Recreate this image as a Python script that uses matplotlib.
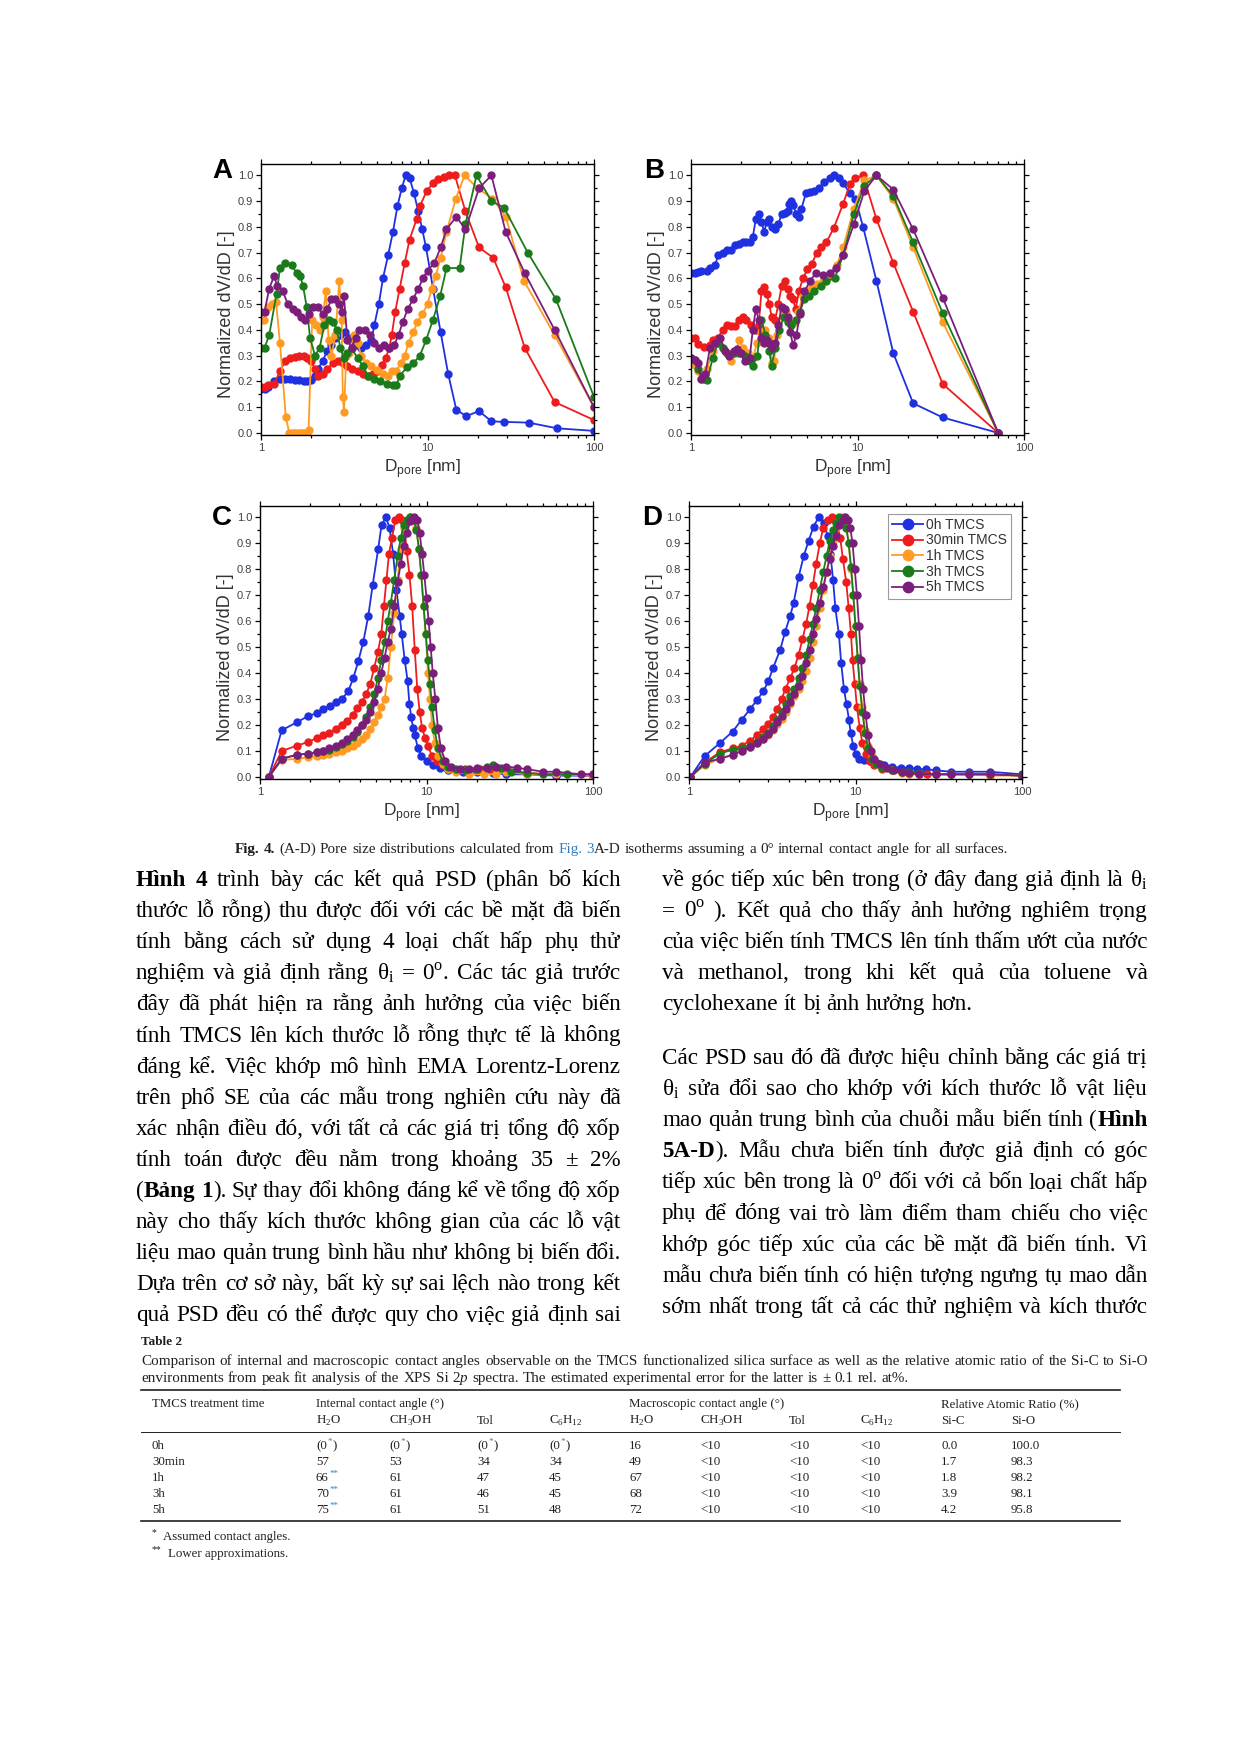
import re
import matplotlib
matplotlib.use('Agg')
import matplotlib.pyplot as plt
from matplotlib.lines import Line2D
from matplotlib.ticker import (MultipleLocator, LogLocator, NullFormatter,
                               FixedLocator, FixedFormatter, FormatStrFormatter)

# ---- panel A ----
A_0h_x = [1.0, 1.05, 1.1, 1.2, 1.3, 1.4, 1.5, 1.6, 1.7, 1.8, 1.9, 2.0, 2.1, 2.2, 2.35, 2.5, 2.65, 2.8, 3.0, 3.2,
          3.4, 3.6, 3.8, 4.0, 4.3, 4.6, 4.8, 5.1, 5.4, 5.8, 6.2, 6.6, 7.0, 7.4, 7.8, 8.3, 8.8, 9.3, 9.8, 10.8,
          12.0, 13.3, 14.9, 17.1, 20.4, 24.2, 28.7, 40.5, 60, 100]
A_0h_y = [0.17, 0.17, 0.18, 0.20, 0.21, 0.21, 0.21, 0.205, 0.205, 0.20, 0.20, 0.205, 0.22, 0.25, 0.28, 0.32, 0.34, 0.37, 0.38, 0.39,
          0.37, 0.35, 0.34, 0.33, 0.34, 0.36, 0.42, 0.50, 0.60, 0.69, 0.78, 0.88, 0.95, 1.0, 0.99, 0.93, 0.86, 0.79, 0.72, 0.56,
          0.39, 0.23, 0.09, 0.065, 0.085, 0.045, 0.043, 0.04, 0.018, 0.008]
A_30m_x = [1.0, 1.05, 1.1, 1.2, 1.3, 1.4, 1.5, 1.6, 1.7, 1.8, 1.9, 2.0, 2.1, 2.2, 2.35, 2.5, 2.7, 2.9, 3.1, 3.3,
           3.5, 3.8, 4.1, 4.4, 4.7, 5.0, 5.3, 5.6, 5.9, 6.1, 6.4, 6.8, 7.3, 7.8, 8.6, 9.0, 9.9, 10.8, 11.6, 12.5,
           13.5, 14.6, 16.9, 20.4, 24.8, 29.5, 38.4, 58, 100]
A_30m_y = [0.18, 0.18, 0.185, 0.19, 0.24, 0.28, 0.29, 0.295, 0.30, 0.30, 0.29, 0.28, 0.25, 0.22, 0.23, 0.25, 0.27, 0.28, 0.27, 0.26,
           0.25, 0.24, 0.23, 0.22, 0.23, 0.24, 0.265, 0.29, 0.33, 0.38, 0.47, 0.56, 0.66, 0.75, 0.83, 0.88, 0.94, 0.97, 0.985, 0.995,
           1.0, 1.0, 0.86, 0.72, 0.68, 0.565, 0.33, 0.12, 0.05]
A_1h_x = [1.0, 1.04, 1.1, 1.17, 1.23, 1.3, 1.41, 1.48, 1.53, 1.58, 1.63, 1.68, 1.73, 1.78, 1.83, 1.88, 1.93, 2.03, 2.15, 2.25,
          2.35, 2.45, 2.55, 2.65, 2.8, 2.95, 3.05, 3.1, 3.15, 3.25, 3.4, 3.6, 3.8, 4.0, 4.3, 4.6, 5.0, 5.4, 5.8, 6.1,
          6.5, 6.9, 7.3, 7.7, 8.2, 8.7, 9.3, 10.0, 10.6, 11.2, 12.0, 13.0, 14.8, 16.7, 20.0, 24.5, 29.5, 38.0, 58, 100]
A_1h_y = [0.44, 0.44, 0.49, 0.50, 0.51, 0.35, 0.06, 0.0, 0.0, 0.0, 0.0, 0.0, 0.0, 0.0, 0.0, 0.0, 0.01, 0.44, 0.42, 0.40,
          0.45, 0.55, 0.36, 0.30, 0.38, 0.59, 0.44, 0.14, 0.08, 0.30, 0.31, 0.38, 0.35, 0.30, 0.27, 0.26, 0.245, 0.23, 0.22, 0.24,
          0.24, 0.27, 0.30, 0.35, 0.39, 0.43, 0.46, 0.50, 0.56, 0.61, 0.68, 0.78, 0.91, 1.0, 0.95, 0.91, 0.84, 0.59, 0.38, 0.10]
A_3h_x = [1.0, 1.05, 1.12, 1.24, 1.3, 1.39, 1.53, 1.64, 1.72, 1.79, 1.88, 1.97, 2.11, 2.25, 2.4, 2.55, 2.7, 2.85, 3.0, 3.15,
          3.3, 3.5, 3.8, 4.1, 4.4, 4.8, 5.2, 5.7, 6.2, 6.5, 6.8, 7.5, 8.2, 9.0, 9.8, 10.8, 11.9, 13.0, 15.6, 16.9,
          19.7, 24.2, 28.8, 40, 59, 100]
A_3h_y = [0.33, 0.33, 0.38, 0.54, 0.64, 0.66, 0.65, 0.62, 0.61, 0.57, 0.49, 0.37, 0.30, 0.33, 0.42, 0.44, 0.43, 0.40, 0.33, 0.29,
          0.31, 0.33, 0.29, 0.26, 0.22, 0.21, 0.20, 0.19, 0.185, 0.185, 0.22, 0.255, 0.27, 0.30, 0.36, 0.44, 0.53, 0.64, 0.64, 0.81,
          1.0, 0.90, 0.875, 0.70, 0.52, 0.14]
A_5h_x = [1.0, 1.05, 1.12, 1.2, 1.25, 1.35, 1.45, 1.55, 1.65, 1.75, 1.85, 1.95, 2.05, 2.2, 2.35, 2.5, 2.65, 2.8, 2.95, 3.05,
          3.15, 3.3, 3.5, 3.7, 3.9, 4.2, 4.5, 4.8, 5.1, 5.5, 5.9, 6.3, 6.7, 7.1, 7.6, 8.2, 8.8, 9.4, 10.0, 11.0,
          12.0, 13.0, 14.9, 16.9, 20.4, 24.2, 29.5, 38.4, 58, 100]
A_5h_y = [0.47, 0.47, 0.56, 0.61, 0.57, 0.55, 0.50, 0.48, 0.47, 0.45, 0.44, 0.46, 0.49, 0.49, 0.46, 0.48, 0.52, 0.52, 0.50, 0.47,
          0.53, 0.36, 0.33, 0.37, 0.40, 0.40, 0.38, 0.35, 0.33, 0.34, 0.33, 0.34, 0.38, 0.43, 0.48, 0.52, 0.56, 0.60, 0.63, 0.66,
          0.72, 0.79, 0.84, 0.79, 0.95, 1.0, 0.78, 0.62, 0.40, 0.10]

# ---- panel B ----
B_0h_x = [1.0, 1.05, 1.1, 1.15, 1.25, 1.3, 1.4, 1.45, 1.55, 1.65, 1.75, 1.85, 1.95, 2.05, 2.15, 2.25, 2.35, 2.45, 2.55, 2.65,
          2.75, 2.85, 2.95, 3.05, 3.2, 3.35, 3.5, 3.65, 3.8, 3.9, 4.0, 4.1, 4.3, 4.45, 4.6, 4.9, 5.2, 5.5, 5.9, 6.3,
          6.8, 7.2, 7.7, 8.2, 9.0, 9.7, 10.8, 13.0, 16.4, 21.6, 32.5, 70]
B_0h_y = [0.62, 0.62, 0.625, 0.63, 0.63, 0.64, 0.65, 0.69, 0.70, 0.71, 0.71, 0.73, 0.735, 0.74, 0.74, 0.74, 0.76, 0.83, 0.85, 0.82,
          0.78, 0.82, 0.83, 0.80, 0.79, 0.81, 0.85, 0.855, 0.86, 0.89, 0.90, 0.885, 0.85, 0.84, 0.87, 0.93, 0.935, 0.94, 0.95, 0.975,
          0.99, 1.0, 0.99, 0.97, 0.93, 0.91, 0.80, 0.59, 0.31, 0.115, 0.06, 0.0]
B_30m_x = [1.0, 1.05, 1.1, 1.2, 1.3, 1.35, 1.45, 1.55, 1.65, 1.75, 1.85, 1.95, 2.05, 2.15, 2.3, 2.45, 2.55, 2.65, 2.75, 2.85,
           2.95, 3.05, 3.2, 3.35, 3.5, 3.65, 3.8, 3.95, 4.1, 4.25, 4.45, 4.7, 5.0, 5.3, 5.7, 6.0, 6.5, 7.2, 8.2, 9.0,
           9.6, 10.8, 13.0, 16.4, 21.6, 32.5, 70]
B_30m_y = [0.37, 0.37, 0.345, 0.335, 0.34, 0.36, 0.37, 0.40, 0.42, 0.415, 0.415, 0.44, 0.45, 0.44, 0.42, 0.40, 0.42, 0.55, 0.565, 0.54,
           0.50, 0.45, 0.44, 0.50, 0.57, 0.59, 0.56, 0.53, 0.52, 0.48, 0.55, 0.60, 0.635, 0.655, 0.70, 0.72, 0.74, 0.795, 0.89, 0.965,
           0.99, 1.0, 0.83, 0.66, 0.47, 0.19, 0.0]
B_1h_x = [1.0, 1.05, 1.1, 1.15, 1.25, 1.35, 1.45, 1.55, 1.65, 1.75, 1.85, 1.95, 2.05, 2.2, 2.35, 2.5, 2.65, 2.8, 2.95, 3.05,
          3.15, 3.3, 3.5, 3.7, 3.85, 4.0, 4.2, 4.4, 4.7, 5.0, 5.3, 5.7, 6.2, 6.8, 7.5, 8.2, 9.5, 11.0, 13.0, 16.4,
          21.6, 32.5, 70]
B_1h_y = [0.27, 0.265, 0.24, 0.21, 0.25, 0.32, 0.35, 0.33, 0.31, 0.28, 0.31, 0.36, 0.33, 0.31, 0.29, 0.35, 0.39, 0.40, 0.37, 0.27,
          0.28, 0.38, 0.48, 0.47, 0.44, 0.42, 0.43, 0.47, 0.53, 0.55, 0.57, 0.58, 0.59, 0.61, 0.65, 0.72, 0.87, 0.98, 1.0, 0.91,
          0.72, 0.43, 0.0]
B_3h_x = [1.0, 1.05, 1.1, 1.2, 1.25, 1.35, 1.45, 1.55, 1.65, 1.8, 1.95, 2.1, 2.25, 2.35, 2.5, 2.65, 2.8, 2.95, 3.05, 3.2,
          3.4, 3.6, 3.8, 4.0, 4.3, 4.5, 4.8, 5.1, 5.5, 6.0, 6.5, 7.3, 8.2, 9.5, 11.0, 13.0, 16.4, 21.6, 32.5, 70]
B_3h_y = [0.29, 0.285, 0.25, 0.21, 0.205, 0.29, 0.35, 0.33, 0.31, 0.31, 0.31, 0.30, 0.28, 0.26, 0.30, 0.44, 0.38, 0.32, 0.26, 0.33,
          0.40, 0.45, 0.43, 0.42, 0.44, 0.47, 0.52, 0.53, 0.55, 0.57, 0.59, 0.60, 0.69, 0.85, 0.96, 1.0, 0.92, 0.74, 0.465, 0.0]
B_5h_x = [1.0, 1.05, 1.1, 1.15, 1.22, 1.3, 1.4, 1.5, 1.6, 1.7, 1.8, 1.9, 2.0, 2.1, 2.25, 2.35, 2.45, 2.55, 2.65, 2.75,
          2.85, 2.95, 3.05, 3.2, 3.35, 3.5, 3.65, 3.8, 3.95, 4.1, 4.3, 4.5, 4.8, 5.2, 5.6, 6.2, 6.8, 7.4, 8.2, 9.5,
          11.0, 13.0, 16.4, 21.6, 32.5, 70]
B_5h_y = [0.29, 0.285, 0.27, 0.21, 0.23, 0.33, 0.35, 0.37, 0.32, 0.30, 0.32, 0.325, 0.31, 0.28, 0.29, 0.40, 0.48, 0.44, 0.37, 0.35,
          0.36, 0.35, 0.33, 0.35, 0.42, 0.49, 0.48, 0.45, 0.39, 0.34, 0.38, 0.46, 0.55, 0.59, 0.62, 0.615, 0.62, 0.64, 0.69, 0.81,
          0.94, 1.0, 0.945, 0.79, 0.525, 0.0]

# ---- panel C ----
C_0h_x = [1.13, 1.35, 1.66, 1.95, 2.19, 2.4, 2.63, 2.88, 3.1, 3.39, 3.63, 3.89, 4.17, 4.47, 4.75, 5.13, 5.37, 5.7, 6.0, 6.3,
          6.6, 6.9, 7.1, 7.4, 7.7, 7.9, 8.1, 8.3, 8.5, 8.9, 9.3, 10.0, 10.9, 12.0, 13.5, 16.6, 20, 25, 30, 40, 60, 100]
C_0h_y = [0.0, 0.18, 0.21, 0.235, 0.245, 0.26, 0.275, 0.29, 0.30, 0.33, 0.38, 0.445, 0.52, 0.62, 0.74, 0.88, 0.97, 1.0, 0.96, 0.86,
          0.72, 0.62, 0.55, 0.45, 0.37, 0.28, 0.23, 0.19, 0.16, 0.11, 0.08, 0.06, 0.045, 0.035, 0.025, 0.02, 0.02, 0.015, 0.01, 0.01,
          0.005, 0.005]
C_30m_x = [1.13, 1.35, 1.66, 1.95, 2.2, 2.4, 2.6, 2.85, 3.1, 3.35, 3.6, 3.85, 4.1, 4.35, 4.6, 4.85, 5.1, 5.35, 5.55, 5.75,
           5.95, 6.2, 6.5, 6.8, 7.1, 7.4, 7.6, 7.9, 8.2, 8.5, 8.8, 9.1, 9.4, 9.8, 10.2, 10.8, 11.5, 12.5, 14, 17,
           21, 25, 30, 40, 60, 100]
C_30m_y = [0.0, 0.10, 0.12, 0.135, 0.15, 0.16, 0.17, 0.185, 0.20, 0.215, 0.24, 0.265, 0.29, 0.32, 0.36, 0.42, 0.48, 0.55, 0.66, 0.76,
           0.86, 0.92, 0.99, 1.0, 0.99, 0.95, 0.87, 0.78, 0.66, 0.49, 0.34, 0.25, 0.19, 0.15, 0.12, 0.08, 0.06, 0.045, 0.035, 0.03,
           0.03, 0.025, 0.03, 0.015, 0.01, 0.005]
C_1h_x = [1.13, 1.35, 1.66, 1.95, 2.2, 2.4, 2.6, 2.85, 3.1, 3.35, 3.6, 3.85, 4.1, 4.35, 4.6, 4.85, 5.1, 5.35, 5.6, 5.85,
          6.1, 6.4, 6.7, 7.0, 7.3, 7.6, 8.0, 8.4, 8.7, 9.0, 9.3, 9.6, 9.9, 10.2, 10.5, 10.8, 11.2, 11.7, 12.5, 13.5,
          15, 18, 22, 26, 30, 40, 60, 100]
C_1h_y = [0.0, 0.065, 0.07, 0.075, 0.08, 0.085, 0.09, 0.095, 0.10, 0.11, 0.12, 0.13, 0.145, 0.16, 0.185, 0.21, 0.24, 0.27, 0.30, 0.38,
          0.50, 0.63, 0.76, 0.88, 0.96, 0.99, 1.0, 0.99, 0.96, 0.88, 0.78, 0.66, 0.55, 0.40, 0.30, 0.20, 0.13, 0.08, 0.05, 0.03,
          0.02, 0.01, 0.01, 0.01, 0.02, 0.01, 0.01, 0.005]
C_3h_x = [1.13, 1.35, 1.66, 1.95, 2.2, 2.4, 2.6, 2.85, 3.1, 3.35, 3.6, 3.85, 4.1, 4.35, 4.6, 4.85, 5.1, 5.35, 5.6, 5.85,
          6.1, 6.4, 6.7, 7.0, 7.3, 7.6, 8.0, 8.4, 8.7, 9.0, 9.3, 9.6, 9.9, 10.2, 10.5, 10.8, 11.2, 11.7, 12.5, 13.5,
          15, 17, 20, 23, 25, 28, 32, 40, 50, 70, 100]
C_3h_y = [0.0, 0.07, 0.085, 0.09, 0.095, 0.10, 0.105, 0.115, 0.125, 0.14, 0.155, 0.175, 0.20, 0.23, 0.27, 0.32, 0.38, 0.45, 0.52, 0.60,
          0.67, 0.76, 0.85, 0.92, 0.97, 0.99, 1.0, 0.99, 0.95, 0.88, 0.78, 0.66, 0.55, 0.45, 0.36, 0.27, 0.18, 0.11, 0.06, 0.04,
          0.03, 0.025, 0.03, 0.04, 0.045, 0.035, 0.02, 0.015, 0.01, 0.01, 0.01]
C_5h_x = [1.13, 1.35, 1.66, 1.95, 2.2, 2.4, 2.6, 2.85, 3.1, 3.35, 3.6, 3.85, 4.1, 4.35, 4.6, 4.85, 5.1, 5.35, 5.6, 5.85,
          6.1, 6.4, 6.7, 7.0, 7.3, 7.6, 8.0, 8.4, 8.8, 9.1, 9.4, 9.7, 10.0, 10.3, 10.6, 10.9, 11.3, 11.7, 12.2, 13,
          14, 16, 18, 20, 23, 26, 30, 35, 40, 50, 60, 85, 100]
C_5h_y = [0.0, 0.07, 0.085, 0.09, 0.095, 0.10, 0.11, 0.12, 0.13, 0.145, 0.16, 0.18, 0.20, 0.22, 0.25, 0.29, 0.34, 0.40, 0.46, 0.52,
          0.57, 0.66, 0.75, 0.82, 0.89, 0.94, 0.985, 1.0, 0.99, 0.94, 0.86, 0.78, 0.69, 0.60, 0.50, 0.40, 0.30, 0.19, 0.11, 0.06,
          0.04, 0.03, 0.03, 0.035, 0.035, 0.04, 0.04, 0.035, 0.03, 0.02, 0.02, 0.01, 0.01]

# ---- panel D ----
D_0h_x = [1.02, 1.24, 1.53, 1.83, 2.07, 2.32, 2.55, 2.8, 3.0, 3.2, 3.53, 3.78, 4.05, 4.25, 4.55, 4.88, 5.23, 5.6, 6.0, 6.43,
          6.8, 7.07, 7.33, 7.57, 7.95, 8.2, 8.52, 8.83, 9.14, 9.35, 9.7, 10.0, 10.5, 11.3, 12.3, 13.5, 14.8, 16.6, 18.7, 21,
          23.5, 26.5, 30.5, 37.5, 48, 64, 100]
D_0h_y = [0.0, 0.08, 0.13, 0.175, 0.22, 0.26, 0.295, 0.33, 0.37, 0.42, 0.49, 0.56, 0.62, 0.67, 0.77, 0.85, 0.91, 0.965, 1.0, 0.98,
          0.93, 0.86, 0.76, 0.65, 0.55, 0.44, 0.34, 0.28, 0.22, 0.17, 0.12, 0.09, 0.07, 0.065, 0.06, 0.055, 0.045, 0.04, 0.035, 0.035,
          0.03, 0.03, 0.025, 0.02, 0.02, 0.02, 0.01]
D_30m_x = [1.02, 1.24, 1.53, 1.83, 2.07, 2.32, 2.55, 2.8, 3.0, 3.2, 3.4, 3.6, 3.8, 4.05, 4.3, 4.55, 4.8, 5.05, 5.3, 5.55,
           5.8, 6.1, 6.4, 6.8, 7.2, 7.5, 7.8, 8.1, 8.4, 8.8, 9.1, 9.4, 9.6, 9.9, 10.2, 10.6, 11.0, 11.5, 12.2, 13,
           14.5, 16.6, 19, 21, 24, 27, 30.5, 37.5, 48, 64, 100]
D_30m_y = [0.0, 0.055, 0.095, 0.11, 0.12, 0.14, 0.16, 0.185, 0.205, 0.23, 0.26, 0.30, 0.34, 0.38, 0.42, 0.47, 0.53, 0.59, 0.66, 0.74,
           0.82, 0.90, 0.96, 0.99, 1.0, 0.99, 0.97, 0.92, 0.84, 0.75, 0.65, 0.55, 0.45, 0.36, 0.27, 0.19, 0.13, 0.09, 0.06, 0.045,
           0.03, 0.025, 0.02, 0.015, 0.01, 0.01, 0.01, 0.01, 0.01, 0.01, 0.005]
D_1h_x = [1.02, 1.24, 1.53, 1.83, 2.07, 2.32, 2.55, 2.8, 3.0, 3.2, 3.4, 3.6, 3.8, 4.05, 4.3, 4.55, 4.8, 5.05, 5.3, 5.55,
          5.8, 6.1, 6.4, 6.7, 7.0, 7.3, 7.6, 8.0, 8.4, 8.8, 9.1, 9.4, 9.7, 10.0, 10.3, 10.6, 11.0, 11.4, 11.9, 12.5,
          13.3, 14.5, 16.6, 19, 21, 24, 30.5, 37.5, 48, 64, 100]
D_1h_y = [0.0, 0.045, 0.07, 0.085, 0.10, 0.115, 0.13, 0.145, 0.16, 0.18, 0.205, 0.225, 0.25, 0.28, 0.31, 0.34, 0.37, 0.41, 0.46, 0.52,
          0.58, 0.65, 0.72, 0.79, 0.85, 0.91, 0.96, 0.99, 1.0, 0.97, 0.90, 0.80, 0.70, 0.58, 0.46, 0.36, 0.27, 0.18, 0.12, 0.08,
          0.05, 0.035, 0.025, 0.015, 0.01, 0.01, 0.01, 0.01, 0.01, 0.005, 0.005]
D_3h_x = [1.02, 1.24, 1.53, 1.83, 2.07, 2.32, 2.55, 2.8, 3.0, 3.2, 3.4, 3.6, 3.8, 4.05, 4.3, 4.55, 4.8, 5.05, 5.3, 5.55,
          5.8, 6.1, 6.4, 6.7, 7.0, 7.3, 7.6, 8.0, 8.4, 8.8, 9.1, 9.4, 9.7, 10.0, 10.3, 10.6, 11.0, 11.4, 11.9, 12.5,
          13.3, 14.5, 16.6, 19, 21, 24, 30.5, 37.5, 48, 64, 100]
D_3h_y = [0.0, 0.05, 0.09, 0.105, 0.11, 0.12, 0.135, 0.155, 0.17, 0.195, 0.22, 0.25, 0.28, 0.31, 0.34, 0.38, 0.42, 0.47, 0.53, 0.59,
          0.65, 0.72, 0.79, 0.85, 0.91, 0.95, 0.98, 1.0, 0.99, 0.96, 0.90, 0.81, 0.70, 0.58, 0.46, 0.35, 0.25, 0.17, 0.11, 0.07,
          0.05, 0.035, 0.025, 0.02, 0.02, 0.015, 0.01, 0.01, 0.01, 0.01, 0.005]
D_5h_x = [1.02, 1.24, 1.53, 1.83, 2.07, 2.32, 2.55, 2.8, 3.0, 3.2, 3.4, 3.6, 3.8, 4.05, 4.3, 4.55, 4.8, 5.05, 5.3, 5.55,
          5.8, 6.1, 6.4, 6.7, 7.0, 7.3, 7.6, 8.0, 8.4, 8.7, 9.0, 9.3, 9.6, 9.9, 10.2, 10.5, 10.8, 11.1, 11.5, 11.9,
          12.4, 13, 14, 15.5, 17, 19, 21, 24, 30.5, 37.5, 48, 64, 100]
D_5h_y = [0.0, 0.055, 0.07, 0.085, 0.10, 0.115, 0.13, 0.145, 0.165, 0.185, 0.21, 0.235, 0.26, 0.29, 0.32, 0.35, 0.39, 0.44, 0.49, 0.55,
          0.61, 0.67, 0.73, 0.79, 0.84, 0.89, 0.93, 0.97, 0.99, 1.0, 0.99, 0.96, 0.90, 0.80, 0.70, 0.58, 0.45, 0.34, 0.24, 0.16,
          0.10, 0.07, 0.05, 0.035, 0.025, 0.02, 0.015, 0.01, 0.01, 0.01, 0.01, 0.01, 0.005]

LABELS = ['0h TMCS', '30min TMCS', '1h TMCS', '3h TMCS', '5h TMCS']

# ---- table 2 ----
tbl_time = ['0h', '30min', '1h', '3h', '5h']
int_h2o = ['(0{*})', '57', '66{**}', '70{**}', '75{**}']
int_meoh = ['(0{*})', '53', '61', '61', '61']
int_tol = ['(0{*})', '34', '47', '46', '51']
int_c6h12 = ['(0{*})', '34', '45', '45', '48']
mac_h2o = ['16', '49', '67', '68', '72']
mac_meoh = ['<10', '<10', '<10', '<10', '<10']
mac_tol = ['<10', '<10', '<10', '<10', '<10']
mac_c6h12 = ['<10', '<10', '<10', '<10', '<10']
ratio_sic = ['0.0', '1.7', '1.8', '3.9', '4.2']
ratio_sio = ['100.0', '98.3', '98.2', '98.1', '95.8']

# ---- text ----
FIG_CAPTION = ('*Fig.* *4.* (A-D) Pore size distributions calculated from #Fig.# #3#A-D isotherms '
               'assuming a 0° internal contact angle for all surfaces.')
LEFT_COL = [
    '*Hình* *4* trình bày các kết quả PSD (phân bố kích',
    'thước lỗ rỗng) thu được đối với các bề mặt đã biến',
    'tính bằng cách sử dụng 4 loại chất hấp phụ thử',
    r'nghiệm và giả định rằng θ$_\mathregular{i}$ = 0$^\mathregular{o}$. Các tác giả trước',
    'đây đã phát hiện ra rằng ảnh hưởng của việc biến',
    'tính TMCS lên kích thước lỗ rỗng thực tế là không',
    'đáng kể. Việc khớp mô hình EMA Lorentz-Lorenz',
    'trên phổ SE của các mẫu trong nghiên cứu này đã',
    'xác nhận điều đó, với tất cả các giá trị tổng độ xốp',
    'tính toán được đều nằm trong khoảng 35 ± 2%',
    '(*Bảng* *1*). Sự thay đổi không đáng kể về tổng độ xốp',
    'này cho thấy kích thước không gian của các lỗ vật',
    'liệu mao quản trung bình hầu như không bị biến đổi.',
    'Dựa trên cơ sở này, bất kỳ sự sai lệch nào trong kết',
    'quả PSD đều có thể được quy cho việc giả định sai',
]
RIGHT_P1 = [
    r'về góc tiếp xúc bên trong (ở đây đang giả định là θ$_\mathregular{i}$',
    r'= 0$^\mathregular{o}$ ). Kết quả cho thấy ảnh hưởng nghiêm trọng',
    'của việc biến tính TMCS lên tính thấm ướt của nước',
    'và methanol, trong khi kết quả của toluene và',
    'cyclohexane ít bị ảnh hưởng hơn.',
]
RIGHT_P2 = [
    'Các PSD sau đó đã được hiệu chỉnh bằng các giá trị',
    r'θ$_\mathregular{i}$ sửa đổi sao cho khớp với kích thước lỗ vật liệu',
    'mao quản trung bình của chuỗi mẫu biến tính (*Hình*',
    '*5A-D*). Mẫu chưa biến tính được giả định có góc',
    r'tiếp xúc bên trong là 0$^\mathregular{o}$ đối với cả bốn loại chất hấp',
    'phụ để đóng vai trò làm điểm tham chiếu cho việc',
    'khớp góc tiếp xúc của các bề mặt đã biến tính. Vì',
    'mẫu chưa biến tính có hiện tượng ngưng tụ mao dẫn',
    'sớm nhất trong tất cả các thử nghiệm và kích thước',
]
TABLE_CAPTION = [
    'Comparison of internal and macroscopic contact angles observable on the TMCS functionalized silica '
    'surface as well as the relative atomic ratio of the Si-C to Si-O',
    'environments from peak fit analysis of the XPS Si 2~p~ spectra. The estimated experimental error '
    'for the latter is ± 0.1 rel. at%.',
]

W, H = 1239, 1752
SERIF = 'Liberation Serif'
SANS = 'Liberation Sans'
INK = '#231f20'
LINK = '#2f7fbf'
COLORS = ['#1f30e0', '#ee1c1c', '#ff9b22', '#1b7b1b', '#7b1e7b']
RUN_GAP = 0.3

plt.rcParams['font.family'] = SANS
fig = plt.figure(figsize=(W / 100, H / 100), dpi=100)
R = fig.canvas.get_renderer()


def _px_rect(l, t, r, b):
    return [l / W, 1 - b / H, (r - l) / W, (b - t) / H]


def _panel(box, series, letter, letter_xy, legend=False):
    ax = fig.add_axes(_px_rect(*box))
    for (xs, ys), c, lab in zip(series, COLORS, LABELS):
        ax.plot(xs, ys, '-o', color=c, lw=1.3, ms=5, label=lab)
    ax.set_xscale('log')
    ax.set_xlim(1, 100)
    ax.set_ylim(-0.008, 1.044)
    ax.xaxis.set_major_locator(FixedLocator([1, 10, 100]))
    ax.xaxis.set_major_formatter(FixedFormatter(['1', '10', '100']))
    ax.xaxis.set_minor_locator(LogLocator(base=10, subs=range(2, 10)))
    ax.xaxis.set_minor_formatter(NullFormatter())
    ax.yaxis.set_major_locator(MultipleLocator(0.1))
    ax.yaxis.set_minor_locator(MultipleLocator(0.05))
    ax.yaxis.set_major_formatter(FormatStrFormatter('%.1f'))
    ax.tick_params(which='both', direction='out', top=True, right=True,
                   labelsize=8, labelcolor='#404040', width=0.9)
    ax.tick_params(which='major', length=3.5, pad=2)
    ax.tick_params(which='minor', length=2)
    for s in ax.spines.values():
        s.set_linewidth(1.0)
    ax.set_ylabel('Normalized dV/dD [-]', fontsize=13, color='#333333')
    ax.yaxis.set_label_coords(-0.078, 0.445)
    ax.set_xlabel(r'D$_\mathregular{pore}$ [nm]', fontsize=12.5, color='#333333')
    ax.xaxis.set_label_coords(0.485, -0.082)
    fig.text(letter_xy[0] / W, 1 - letter_xy[1] / H, letter, fontsize=20,
             weight='bold', family=SANS)
    if legend:
        leg = ax.legend(loc='upper right', bbox_to_anchor=(0.968, 0.972), borderaxespad=0,
                        fontsize=10, fancybox=False, edgecolor='#9a9a9a', framealpha=1,
                        handlelength=2.2, handletextpad=0.25, labelspacing=0.12,
                        borderpad=0.3, markerscale=1.5)
        leg.get_frame().set_linewidth(0.8)
        for t in leg.get_texts():
            t.set_color('#333333')
    return ax


def _parse(line):
    words = []
    bold = ital = blue = False
    for raw in line.split(' '):
        runs, buf = [], ''
        for ch in raw:
            if ch in '*~#':
                if buf:
                    runs.append((buf, bold, ital, blue))
                    buf = ''
                if ch == '*':
                    bold = not bold
                elif ch == '~':
                    ital = not ital
                else:
                    blue = not blue
            else:
                buf += ch
        if buf:
            runs.append((buf, bold, ital, blue))
        words.append(runs)
    return words


def _wid(t):
    return t.get_window_extent(R).width


def _words(line, y, size, color):
    out = []
    for runs in _parse(line):
        out.append([fig.text(0, 1 - y / H, s, fontsize=size, family=SERIF,
                             weight='bold' if b else 'normal',
                             style='italic' if it else 'normal',
                             color=LINK if bl else color) for s, b, it, bl in runs])
    return out


def _space(size):
    a = fig.text(0, 0, 'n n', fontsize=size, family=SERIF)
    b = fig.text(0, 0, 'nn', fontsize=size, family=SERIF)
    w = _wid(a) - _wid(b)
    a.remove()
    b.remove()
    return w


def _natural(line, size):
    words = _words(line, 0, size, INK)
    w = sum(_wid(t) + RUN_GAP for ts in words for t in ts) + (len(words) - 1) * _space(size)
    for ts in words:
        for t in ts:
            t.remove()
    return w


def _line(line, x0, y, size, x1=None, color=INK):
    words = _words(line, y, size, color)
    widths = [[_wid(t) + RUN_GAP for t in ts] for ts in words]
    total = sum(sum(w) for w in widths)
    if x1 is not None and len(words) > 1:
        gap = (x1 - x0 - total) / (len(words) - 1)
    else:
        gap = _space(size)
    x = x0
    for ts, ws in zip(words, widths):
        for t, w in zip(ts, ws):
            t.set_x(x / W)
            x += w
        x += gap


def _cell(x, y, s, size):
    for p in re.split(r'(\{[^}]*\})', s):
        if not p:
            continue
        if p.startswith('{'):
            t = fig.text(x / W, 1 - (y - size * 0.5) / H, p[1:-1], fontsize=size * 0.7,
                         family=SERIF, color=LINK)
        else:
            t = fig.text(x / W, 1 - y / H, p, fontsize=size, family=SERIF, color=INK)
        x += _wid(t) + 0.6


def _rule(x0, x1, y, lw):
    fig.add_artist(Line2D([x0 / W, x1 / W], [1 - y / H, 1 - y / H],
                          transform=fig.transFigure, color=INK, lw=lw))


def _draw_figure():
    _panel((261, 164, 594, 435), [(A_0h_x, A_0h_y), (A_30m_x, A_30m_y), (A_1h_x, A_1h_y),
                                  (A_3h_x, A_3h_y), (A_5h_x, A_5h_y)], 'A', (212, 178))
    _panel((691, 164, 1024, 435), [(B_0h_x, B_0h_y), (B_30m_x, B_30m_y), (B_1h_x, B_1h_y),
                                   (B_3h_x, B_3h_y), (B_5h_x, B_5h_y)], 'B', (644, 178))
    _panel((260, 506, 593, 779), [(C_0h_x, C_0h_y), (C_30m_x, C_30m_y), (C_1h_x, C_1h_y),
                                  (C_3h_x, C_3h_y), (C_5h_x, C_5h_y)], 'C', (212, 525))
    _panel((689, 506, 1022, 779), [(D_0h_x, D_0h_y), (D_30m_x, D_30m_y), (D_1h_x, D_1h_y),
                                   (D_3h_x, D_3h_y), (D_5h_x, D_5h_y)], 'D', (642, 525), legend=True)


def _draw_body():
    cap_size = 10 * 773 / _natural(FIG_CAPTION, 10)
    _line(FIG_CAPTION, 235, 853, cap_size, x1=1008)

    justified = LEFT_COL + RIGHT_P1[:-1] + RIGHT_P2
    size = 10 * 485 * 1.025 / max(_natural(l, 10) for l in justified)
    step = 31.1
    for i, l in enumerate(LEFT_COL):
        _line(l, 136, 886 + i * step, size, x1=621, color='black')
    for i, l in enumerate(RIGHT_P1):
        last = i == len(RIGHT_P1) - 1
        _line(l, 662, 886 + i * step, size, x1=None if last else 1148, color='black')
    for i, l in enumerate(RIGHT_P2):
        _line(l, 662, 1064 + i * step, size, x1=1148, color='black')


def _draw_table():
    fig.text(141 / W, 1 - 1345 / H, 'Table 2', fontsize=9.5, weight='bold', family=SERIF, color=INK)
    tc_size = 10 * 1007 / _natural(TABLE_CAPTION[0], 10)
    _line(TABLE_CAPTION[0], 141, 1365, tc_size, x1=1148)
    _line(TABLE_CAPTION[1], 141, 1382, tc_size)

    size = 10 * 114 / _natural('TMCS treatment time', 10)
    _rule(141, 1120, 1390, 1.2)
    _rule(141, 1120, 1432, 0.7)
    _rule(141, 1120, 1521, 1.2)
    heads = [(152, 'TMCS treatment time'), (316, 'Internal contact angle (°)'),
             (629, 'Macroscopic contact angle (°)'), (941, 'Relative Atomic Ratio (%)')]
    for x, s in heads:
        fig.text(x / W, 1 - 1407 / H, s, fontsize=size, family=SERIF, color=INK)
    cols = [316, 389, 477, 549, 629, 700, 789, 860, 941, 1011]
    subs = [r'H$_\mathregular{2}$O', r'CH$_\mathregular{3}$OH', 'Tol', r'C$_\mathregular{6}$H$_\mathregular{12}$',
            r'H$_\mathregular{2}$O', r'CH$_\mathregular{3}$OH', 'Tol', r'C$_\mathregular{6}$H$_\mathregular{12}$',
            'Si-C', 'Si-O']
    for x, s in zip(cols, subs):
        fig.text(x / W, 1 - 1424 / H, s, fontsize=size, family=SERIF, color=INK)
    columns = [int_h2o, int_meoh, int_tol, int_c6h12, mac_h2o, mac_meoh, mac_tol, mac_c6h12,
               ratio_sic, ratio_sio]
    for r, name in enumerate(tbl_time):
        y = 1449 + r * 16
        _cell(152, y, name, size)
        for x, col in zip(cols, columns):
            _cell(x, y, col[r], size)
    fig.text(152 / W, 1 - 1535 / H, '*', fontsize=size * 0.75, family=SERIF, color=INK)
    fig.text(163 / W, 1 - 1540 / H, 'Assumed contact angles.', fontsize=size, family=SERIF, color=INK)
    fig.text(152 / W, 1 - 1552 / H, '**', fontsize=size * 0.75, family=SERIF, color=INK)
    fig.text(168 / W, 1 - 1557 / H, 'Lower approximations.', fontsize=size, family=SERIF, color=INK)


def main():
    _draw_figure()
    _draw_body()
    _draw_table()
    fig.savefig('out.png', dpi=100)


if __name__ == '__main__':
    main()
